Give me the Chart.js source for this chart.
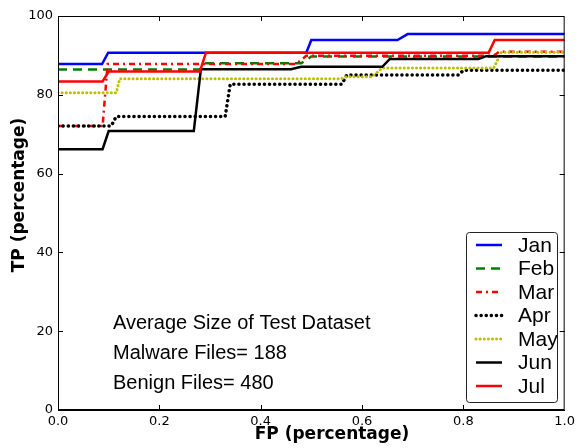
<!DOCTYPE html>
<html>
<head>
<meta charset="utf-8">
<script src="https://cdn.jsdelivr.net/npm/chart.js@4"></script>
<style>
  body { margin: 0; background: #fff; }
  canvas { display: block; }
</style>
</head>
<body>
<canvas id="roc" width="579" height="448"></canvas>
<script>
// ROC steps: FP (fraction) and TP (percent) per month
const months = ["Jan", "Feb", "Mar", "Apr", "May", "Jun", "Jul"];

const fpJan = [0, 0.087, 0.099, 0.49, 0.50, 0.67, 0.69, 1.0];
const tpJan = [87.8, 87.8, 90.7, 90.7, 93.9, 93.9, 95.4, 95.4];

const fpFeb = [0, 0.28, 0.29, 0.48, 0.50, 1.0];
const tpFeb = [86.4, 86.4, 88.0, 88.0, 89.7, 89.7];

const fpMar = [0, 0.088, 0.098, 0.47, 0.49, 0.86, 0.87, 1.0];
const tpMar = [72.1, 72.1, 87.8, 87.8, 89.9, 89.9, 90.9, 90.9];

const fpApr = [0, 0.105, 0.115, 0.33, 0.34, 0.56, 0.57, 0.79, 0.80, 1.0];
const tpApr = [72.1, 72.1, 74.5, 74.5, 82.7, 82.7, 85.0, 85.0, 86.2, 86.2];

const fpMay = [0, 0.115, 0.122, 0.56, 0.57, 0.62, 0.64, 0.86, 0.875, 1.0];
const tpMay = [80.5, 80.5, 84.1, 84.1, 84.6, 84.6, 86.8, 86.8, 90.8, 90.8];

const fpJun = [0, 0.088, 0.10, 0.268, 0.282, 0.46, 0.48, 0.64, 0.655, 0.83, 0.845, 1.0];
const tpJun = [66.2, 66.2, 70.8, 70.8, 86.5, 86.5, 87.1, 87.1, 89.1, 89.1, 89.8, 89.8];

const fpJul = [0, 0.088, 0.10, 0.28, 0.292, 0.85, 0.862, 1.0];
const tpJul = [83.4, 83.4, 85.9, 85.9, 90.7, 90.7, 93.9, 93.9];

const fpAll = [fpJan, fpFeb, fpMar, fpApr, fpMay, fpJun, fpJul];
const tpAll = [tpJan, tpFeb, tpMar, tpApr, tpMay, tpJun, tpJul];

const xTitle = "FP (percentage)";
const yTitle = "TP (percentage)";
const notes = ["Average Size of Test Dataset", "Malware Files= 188", "Benign Files= 480"];

// line looks, matplotlib style
const styles = [
  { color: "#0000ff", dash: [], width: 2.5, cap: "butt" },
  { color: "#007f00", dash: [9, 6], width: 2.5, cap: "butt" },
  { color: "#ff0000", dash: [6, 4, 2, 4], width: 2.5, cap: "butt" },
  { color: "#000000", dash: [0.1, 5], width: 3.5, cap: "round" },
  { color: "#bfbf00", dash: [0.1, 4], width: 3, cap: "round" },
  { color: "#000000", dash: [], width: 2.5, cap: "butt" },
  { color: "#ff0000", dash: [], width: 2.5, cap: "butt" },
];

const datasets = months.map((m, i) => ({
  label: m,
  data: fpAll[i].map((x, k) => ({ x: x, y: tpAll[i][k] })),
  borderColor: styles[i].color,
  borderDash: styles[i].dash,
  borderWidth: styles[i].width,
  borderCapStyle: styles[i].cap,
  pointRadius: 0,
  tension: 0,
  fill: false,
  order: months.length - i, // later months on top, like matplotlib
}));

// frame, inward ticks, axis titles, legend box and text block
const extras = {
  id: "extras",
  afterDatasetsDraw(chart) {
    const ctx = chart.ctx;
    const a = chart.chartArea;
    const xs = chart.scales.x, ys = chart.scales.y;
    ctx.save();
    ctx.strokeStyle = "#000";
    ctx.lineWidth = 1;
    ctx.setLineDash([]);
    ctx.strokeRect(a.left + 0.5, a.top + 0.5, a.right - a.left - 1, a.bottom - a.top - 1);
    ctx.beginPath();
    [0.2, 0.4, 0.6, 0.8].forEach(v => {
      const px = Math.round(xs.getPixelForValue(v)) + 0.5;
      ctx.moveTo(px, a.bottom); ctx.lineTo(px, a.bottom - 5);
      ctx.moveTo(px, a.top); ctx.lineTo(px, a.top + 5);
    });
    [20, 40, 60, 80].forEach(v => {
      const py = Math.round(ys.getPixelForValue(v)) + 0.5;
      ctx.moveTo(a.left, py); ctx.lineTo(a.left + 5, py);
      ctx.moveTo(a.right, py); ctx.lineTo(a.right - 5, py);
    });
    ctx.stroke();

    // axis titles (sit a bit off-centre in the original)
    ctx.fillStyle = "#000";
    ctx.font = "bold 17px 'DejaVu Sans', sans-serif";
    ctx.textAlign = "center";
    ctx.textBaseline = "alphabetic";
    ctx.fillText(xTitle, 332, 439);
    ctx.save();
    ctx.translate(24, 195);
    ctx.rotate(-Math.PI / 2);
    ctx.fillText(yTitle, 0, 0);
    ctx.restore();

    // annotation
    ctx.textAlign = "left";
    ctx.font = "20px 'Liberation Sans', Arial, sans-serif";
    notes.forEach((t, i) => ctx.fillText(t, 113, 329 + i * 30));

    // legend
    const bx = 466, by = 232, bw = 91, bh = 170;
    ctx.fillStyle = "#fff";
    ctx.beginPath();
    ctx.roundRect(bx + 0.5, by + 0.5, bw, bh, 3);
    ctx.fill();
    ctx.strokeStyle = "#222";
    ctx.stroke();
    ctx.font = "21px 'Liberation Sans', Arial, sans-serif";
    ctx.textBaseline = "middle";
    chart.data.datasets.forEach((ds, i) => {
      const y = 245 + i * 23.5;
      ctx.strokeStyle = ds.borderColor;
      ctx.lineWidth = ds.borderWidth;
      ctx.lineCap = ds.borderCapStyle;
      ctx.setLineDash(ds.borderDash);
      ctx.beginPath();
      ctx.moveTo(476, y); ctx.lineTo(502, y);
      ctx.stroke();
      ctx.fillStyle = "#000";
      ctx.fillText(ds.label, 518, y + 1);
    });
    ctx.restore();
  },
};

new Chart(document.getElementById("roc"), {
  type: "line",
  data: { datasets: datasets },
  options: {
    responsive: false,
    animation: false,
    devicePixelRatio: 1,
    layout: { padding: { top: 16, right: 14, left: 0, bottom: 0 } },
    plugins: { legend: { display: false }, tooltip: { enabled: false } },
    scales: {
      x: {
        type: "linear",
        min: 0,
        max: 1,
        grid: { display: false, drawTicks: false },
        border: { color: "#000" },
        ticks: {
          stepSize: 0.2,
          color: "#000",
          padding: 4,
          font: { family: "DejaVu Sans", size: 13 },
          callback: v => v.toFixed(1),
        },
        afterFit: s => { s.height = 38; },
      },
      y: {
        min: 0,
        max: 100,
        grid: { display: false, drawTicks: false },
        border: { color: "#000" },
        ticks: {
          stepSize: 20,
          color: "#000",
          padding: 5,
          font: { family: "DejaVu Sans", size: 13 },
        },
        afterFit: s => { s.width = 58; },
      },
    },
  },
  plugins: [extras],
});
</script>
</body>
</html>
